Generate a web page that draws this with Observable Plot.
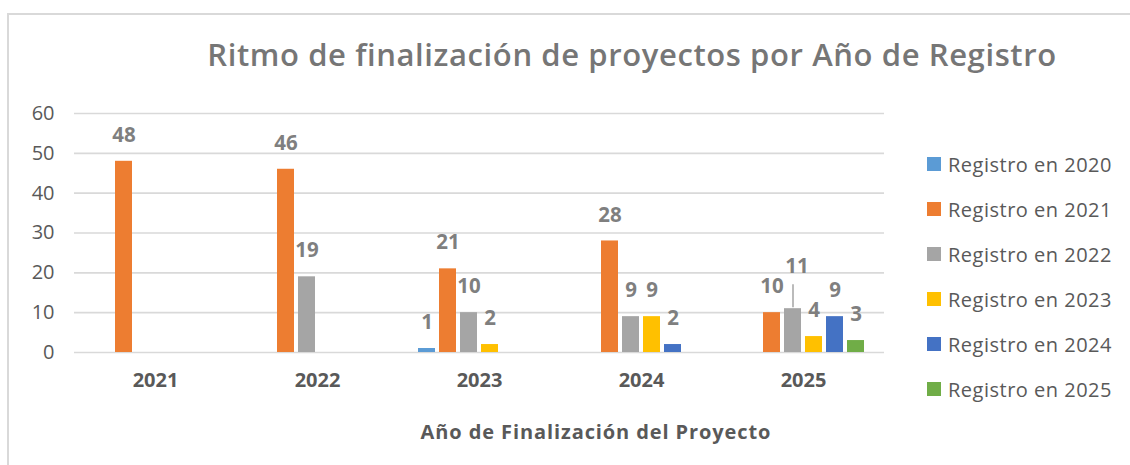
<!DOCTYPE html>
<html>
<head>
<meta charset="utf-8">
<script src="https://cdn.jsdelivr.net/npm/d3@7"></script>
<script src="https://cdn.jsdelivr.net/npm/@observablehq/plot@0.6"></script>
<style>
  html, body { margin: 0; padding: 0; background: #fff; overflow: hidden; }
  #wrap { position: relative; width: 1130px; height: 465px; overflow: hidden; font-family: "Open Sans", sans-serif; }
  #frame { position: absolute; left: 7px; top: 13px; width: 1300px; height: 600px; border: 2px solid #d9d9d9; box-sizing: border-box; }
  #title { position: absolute; left: 632px; top: 34px; transform: translateX(-50%); white-space: nowrap;
           font-size: 31px; letter-spacing: 0.6px; line-height: 40px; font-weight: 600; color: #767676; }
  #xtitle { position: absolute; left: 596px; top: 418px; transform: translateX(-50%); white-space: nowrap;
           font-size: 20px; letter-spacing: 0.9px; line-height: 28px; font-weight: bold; color: #595959; }
  #chart { position: absolute; left: 0; top: 0; }
  #legend { position: absolute; left: 927px; top: 142px; }
  .item { position: absolute; left: 0; height: 44px; display: flex; align-items: center; white-space: nowrap;
          font-size: 20px; letter-spacing: 0.5px; color: #595959; }
  .sw { width: 14px; height: 14px; margin-right: 7px; }
</style>
</head>
<body>
<div id="wrap">
  <div id="frame"></div>
  <div id="chart"></div>
  <div id="title"></div>
  <div id="xtitle"></div>
  <div id="legend"></div>
</div>
<script>
const titleText = "Ritmo de finalización de proyectos por Año de Registro";
const xTitle = "Año de Finalización del Proyecto";
const finYears = ["2021", "2022", "2023", "2024", "2025"];
const series = ["Registro en 2020", "Registro en 2021", "Registro en 2022", "Registro en 2023", "Registro en 2024", "Registro en 2025"];
const colors = ["#5B9BD5", "#ED7D31", "#A5A5A5", "#FFC000", "#4472C4", "#70AD47"];
const reg2020 = [null, null, 1, null, null];
const reg2021 = [48, 46, 21, 28, 10];
const reg2022 = [null, 19, 10, 9, 11];
const reg2023 = [null, null, 2, 9, 4];
const reg2024 = [null, null, null, 2, 9];
const reg2025 = [null, null, null, null, 3];
const yTicks = [0, 10, 20, 30, 40, 50, 60];

const seriesValues = [reg2020, reg2021, reg2022, reg2023, reg2024, reg2025];
const data = [];
finYears.forEach((fin, i) => {
  series.forEach((s, j) => {
    const v = seriesValues[j][i];
    if (v != null) data.push({fin, serie: s, value: v});
  });
});
const isMoved = d => d.fin === "2025" && d.serie === "Registro en 2022";

document.getElementById("title").textContent = titleText;
document.getElementById("xtitle").textContent = xTitle;

const chart = Plot.plot({
  width: 1130,
  height: 465,
  marginLeft: 72,
  marginRight: 245,
  marginTop: 113,
  marginBottom: 113,
  style: {fontFamily: "'Open Sans', sans-serif", background: "transparent"},
  fx: {domain: finYears, padding: 0},
  x: {domain: series, paddingInner: 0.2, paddingOuter: 0.85, axis: null},
  y: {domain: [0, 60], axis: null},
  color: {domain: series, range: colors},
  marks: [
    Plot.ruleY(yTicks, {stroke: "#d9d9d9", strokeWidth: 1.6}),
    Plot.axisY({ticks: yTicks, tickSize: 0, tickPadding: 20, fontSize: 20, color: "#595959", label: null}),
    Plot.axisFx({anchor: "bottom", tickSize: 0, tickPadding: 20, fontSize: 20, fontWeight: "bold", color: "#595959",
                 label: null}),
    Plot.barY(data, {fx: "fin", x: "serie", y: "value", fill: "serie"}),
    Plot.text(data.filter(d => !isMoved(d)), {fx: "fin", x: "serie", y: "value", text: "value", dy: -26,
      fontSize: 20.5, fontWeight: "bold", fill: "#7f7f7f"}),
    Plot.text(data.filter(isMoved), {fx: "fin", x: "serie", y: "value", text: "value", dy: -42, dx: 4,
      fontSize: 20.5, fontWeight: "bold", fill: "#7f7f7f"}),
    Plot.ruleX(data.filter(isMoved), {fx: "fin", x: "serie", y1: "value", y2: "value", insetTop: -24, insetBottom: 1,
      stroke: "#a5a5a5", strokeWidth: 1.5})
  ]
});
document.getElementById("chart").appendChild(chart);

const legend = document.getElementById("legend");
series.forEach((s, i) => {
  const item = document.createElement("div");
  item.className = "item";
  item.style.top = (i * 45) + "px";
  const sw = document.createElement("div");
  sw.className = "sw";
  sw.style.background = colors[i];
  const t = document.createElement("span");
  t.textContent = s;
  item.appendChild(sw);
  item.appendChild(t);
  legend.appendChild(item);
});
</script>
</body>
</html>
